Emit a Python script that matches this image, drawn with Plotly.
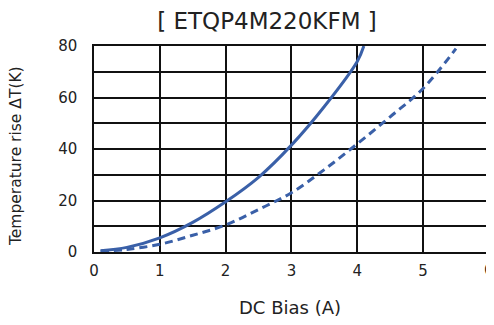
import plotly.graph_objects as go

# DC bias (A) and temperature rise (K)
solid_x = [0.1, 0.5, 1.0, 1.5, 2.0, 2.5, 3.0, 3.5, 4.0, 4.1]
solid_y = [0.5, 1.8, 5.5, 11.5, 19.5, 29.0, 41.5, 56.5, 74.0, 80.0]
dash_x = [0.1, 0.5, 1.0, 1.5, 2.0, 2.5, 3.0, 3.5, 4.0, 4.5, 5.0, 5.5]
dash_y = [0.3, 1.0, 3.0, 6.5, 10.5, 16.5, 23.0, 32.0, 42.0, 52.5, 63.5, 79.0]

x_ticks = [0, 1, 2, 3, 4, 5, 6]
y_ticks = [0, 20, 40, 60, 80]

color = "#3a60a8"
font = "DejaVu Sans, Verdana, sans-serif"
OFF = 8  # page body margin offset
W, H = 494 - OFF, 325 - 2 * OFF
l, r, t, b = 94 - OFF, 5, 46 - OFF, 73 - OFF
pw, ph = W - l - r, H - t - b


def px_x(x):
    return (x - OFF - l) / pw


def px_y(y):
    return (H - b - (y - OFF)) / ph


fig = go.Figure()
fig.add_trace(go.Scatter(x=solid_x, y=solid_y, mode="lines", line=dict(color=color, width=3, shape="spline"), showlegend=False))
fig.add_trace(go.Scatter(x=dash_x, y=dash_y, mode="lines", line=dict(color=color, width=3, dash="8px,5px", shape="spline"), showlegend=False))

# last x tick label is drawn as an annotation (plotly hides it at the page edge)
tick_text = [str(v) for v in x_ticks[:-1]] + [""]

fig.update_layout(
    width=W, height=H,
    margin=dict(l=l, r=r, t=t, b=b),
    paper_bgcolor="white", plot_bgcolor="white",
    font=dict(family=font, color="#222", size=15),
    title=dict(text="[ ETQP4M220KFM ]", x=(267 - OFF) / W, xref="container", xanchor="center",
               y=1 - (21 - OFF) / H, yref="container", yanchor="middle",
               font=dict(size=23, family=font, color="#222")),
    annotations=[
        dict(text="DC Bias (A)", x=px_x(290), y=px_y(307), xref="paper", yref="paper",
             showarrow=False, xanchor="center", yanchor="middle", font=dict(size=18, family=font, color="#222")),
        dict(text="Temperature rise ΔT(K)", x=px_x(16), y=px_y(156), xref="paper", yref="paper",
             showarrow=False, xanchor="center", yanchor="middle", textangle=-90,
             font=dict(size=15.5, family=font, color="#222")),
        dict(text=str(x_ticks[-1]), x=x_ticks[-1], y=0, xref="x", yref="paper",
             showarrow=False, xanchor="center", yanchor="middle", yshift=-18,
             font=dict(size=15, family=font, color="#222")),
    ],
)

fig.update_xaxes(
    range=[0, 6.002], tickvals=x_ticks, ticktext=tick_text,
    showgrid=True, gridcolor="#111", gridwidth=1.5,
    showline=True, linecolor="#111", linewidth=1.5, mirror=True, zeroline=False,
    ticks="", ticklabelstandoff=4, automargin=False, ticklabeloverflow="allow",
)
fig.update_yaxes(
    range=[0, 80], tickvals=y_ticks, showgrid=True, gridcolor="#111", gridwidth=1.5,
    minor=dict(dtick=10, showgrid=True, gridcolor="#111", gridwidth=1.5),
    showline=True, linecolor="#111", linewidth=1.5, mirror=True, zeroline=False,
    ticks="", ticklabelstandoff=12, automargin=False, ticklabeloverflow="allow",
)

fig.write_html("out.html")
